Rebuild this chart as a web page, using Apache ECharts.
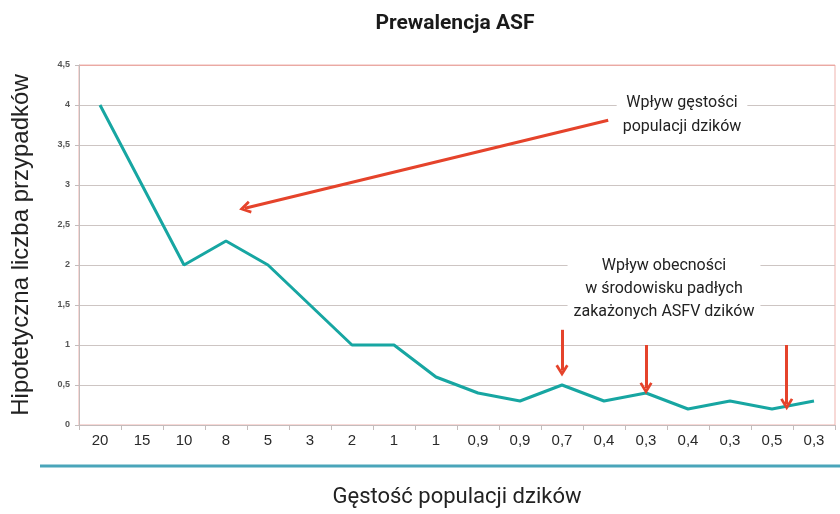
<!DOCTYPE html>
<html><head><meta charset="utf-8">
<script src="https://cdn.jsdelivr.net/npm/echarts@6/dist/echarts.min.js"></script>
<style>html,body{margin:0;padding:0;background:#fff}#c{width:840px;height:514px}</style>
</head><body><div id="c"></div>
<script>
const categories = ['20','15','10','8','5','3','2','1','1','0,9','0,9','0,7','0,4','0,3','0,4','0,3','0,5','0,3'];
const values = [4.0, 3.0, 2.0, 2.3, 2.0, 1.5, 1.0, 1.0, 0.6, 0.4, 0.3, 0.5, 0.3, 0.4, 0.2, 0.3, 0.2, 0.3];
const yTicks = {min: 0, max: 4.5, interval: 0.5};
// annotation arrows in (category position, value) space
const arrowDensity = [[12.1, 3.81], [3.45, 2.71]];
const arrowsDead = [
  [[11.0, 1.19], [11.0, 0.68]],
  [[13.0, 1.0], [13.0, 0.46]],
  [[16.35, 1.0], [16.35, 0.26]]
];
const noteDensity = ['Wpływ gęstości', 'populacji dzików'];
const noteDead = ['Wpływ obecności', 'w środowisku padłych', 'zakażonych ASFV dzików'];

const NARROW = "Roboto, 'Noto Sans', sans-serif";
const red = '#e5432b';
const grid = '#cdc5c3';
const chart = echarts.init(document.getElementById('c'), null, {renderer: 'canvas'});

const CHEVRON = 'path://M5,0 L10,8.5 L8.2,9.6 L5,4.2 L1.8,9.6 L0,8.5 Z';
function arrowLine(a, b) {
  return [{coord: a, symbol: 'none'}, {coord: b, symbol: CHEVRON, symbolSize: [13, 12]}];
}

chart.setOption({
  animation: false,
  title: {
    text: 'Prewalencja ASF', left: 450, top: 8, textAlign: 'center',
    textStyle: {fontFamily: NARROW, fontWeight: 'bold', fontSize: 21, color: '#1a1a1a'}
  },
  grid: {left: 79, right: 5, top: 65, bottom: 89, outerBoundsMode: 'none', containLabel: false,
    show: true, borderColor: '#efb3ae', borderWidth: 1, backgroundColor: 'transparent'},
  xAxis: [{
    type: 'category', data: categories, boundaryGap: true,
    name: 'Gęstość populacji dzików', nameLocation: 'middle', nameGap: 61,
    nameTextStyle: {fontFamily: NARROW, fontSize: 22, color: '#222'},
    axisLine: {show: true, lineStyle: {color: '#c4bcbc', width: 1}},
    axisTick: {show: true, length: 5, lineStyle: {color: '#c4bcbc'}},
    axisLabel: {fontFamily: "'Liberation Sans', Arial, sans-serif", fontSize: 15, color: '#2a2a2a', margin: 8},
    splitLine: {show: false}
  }, {
    type: 'value', min: -0.5, max: 17.5, show: false
  }],
  yAxis: {
    type: 'value', min: yTicks.min, max: yTicks.max, interval: yTicks.interval,
    name: 'Hipotetyczna liczba przypadków', nameLocation: 'middle', nameGap: 46,
    nameTextStyle: {fontFamily: "'Liberation Sans', Arial, sans-serif", fontSize: 24, color: '#222'},
    axisLine: {show: true, onZero: false, lineStyle: {color: '#c4bcbc'}},
    axisTick: {show: true, length: 4, lineStyle: {color: '#c4bcbc'}},
    axisLabel: {fontFamily: "'Liberation Sans', Arial, sans-serif", fontSize: 9, fontWeight: 'bold', color: '#555', margin: 9,
      formatter: v => String(v).replace('.', ',')},
    splitLine: {show: true, lineStyle: {color: [grid, grid, grid, grid, grid, grid, grid, grid, grid, '#eaa9a3'], width: 1}}
  },
  series: [{
    type: 'line', data: values, symbol: 'none', smooth: false,
    lineStyle: {color: '#17a6a2', width: 3}, z: 3
  }, {
    type: 'line', xAxisIndex: 1, data: [], silent: true,
    markLine: {
      silent: true,
      lineStyle: {color: red, width: 3, type: 'solid'},
      label: {show: false},
      data: [arrowLine(arrowDensity[0], arrowDensity[1])].concat(arrowsDead.map(a => arrowLine(a[0], a[1])))
    }
  }],
  graphic: [
    {type: 'line', z: 100, shape: {x1: 40, y1: 466, x2: 840, y2: 466}, style: {stroke: '#4aa5ba', lineWidth: 3}},
    {type: 'text', z: 100, position: [682, 91], style: {
      text: noteDensity.join('\n'), textAlign: 'center', fontFamily: NARROW, fontSize: 16,
      lineHeight: 24, fill: '#222', backgroundColor: '#fff', padding: [0, 6]}},
    {type: 'text', z: 100, position: [664, 254], style: {
      text: noteDead.join('\n'), textAlign: 'center', fontFamily: NARROW, fontSize: 16,
      lineHeight: 23, fill: '#222', backgroundColor: '#fff', padding: [0, 6]}}
  ]
});
</script></body></html>
